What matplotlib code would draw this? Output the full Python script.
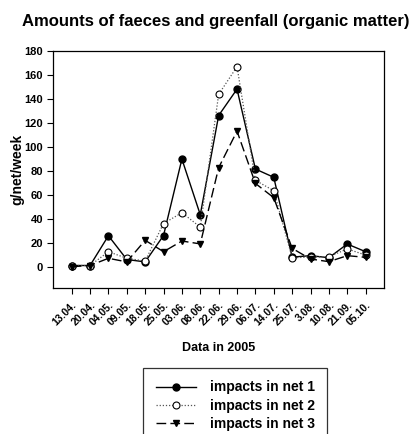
import matplotlib
matplotlib.use("Agg")
import matplotlib.pyplot as plt

plt.rcParams['font.family'] = ['Liberation Sans', 'DejaVu Sans']

dates = ["13.04.", "20.04.", "04.05.", "09.05.", "18.05.", "25.05.", "03.06.", "08.06.",
         "22.06.", "29.06.", "06.07.", "14.07.", "25.07.", "3.08.", "10.08.", "21.09.", "05.10."]
net1 = [1, 1, 25.8, 6, 4, 26, 89.7, 43.3, 126, 148, 81.4, 74.5, 8, 9.2, 7.5, 18.9, 12.5]
net2 = [1, 1, 12.5, 7, 4.7, 36, 45, 33, 143.6, 166.7, 72, 63.3, 7.5, 8, 8.3, 14.8, 9.7]
net3 = [0, 1, 7, 4, 22, 12.5, 21.4, 19, 82.5, 113, 69.4, 57.5, 15.3, 6.4, 4.2, 9.2, 7.8]
yticks = [0, 20, 40, 60, 80, 100, 120, 140, 160, 180]

W, H = 413, 434
fig = plt.figure(figsize=(W / 100, H / 100), dpi=100)
ax = fig.add_axes([53.3 / W, 1 - 287.7 / H, (384 - 53.3) / W, (287.7 - 50.7) / H])

x = list(range(len(dates)))
ax.plot(x, net1, color='black', lw=1.0, marker='o', ms=5, mfc='black', mec='black',
        label='impacts in net 1')
ax.plot(x, net2, color='#555555', lw=0.9, ls=(0, (1, 1.5)), marker='o', ms=5, mfc='white',
        mec='black', mew=0.8, label='impacts in net 2')
ax.plot(x, net3, color='black', lw=1.0, ls=(0, (7, 3)), marker='v', ms=5, mfc='black',
        mec='black', label='impacts in net 3')

ax.set_xlim(-1, len(dates))
ax.set_ylim(-17.5, 180)
ax.set_yticks(yticks)
ax.set_yticklabels([str(v) for v in yticks], fontsize=8, fontweight='bold')
ax.set_xticks(x)
ax.set_xticklabels(dates, rotation=45, ha='right', rotation_mode='anchor', fontsize=7.5,
                   fontweight='bold')
ax.tick_params(direction='out', length=4, width=0.8)
ax.tick_params(axis='x', pad=5)
for s in ax.spines.values():
    s.set_linewidth(0.9)

fig.text(17 / W, 1 - 169 / H, 'g/net/week', fontsize=10, fontweight='bold',
         rotation=90, ha='center', va='center')
fig.text(218.5 / W, 1 - 348 / H, 'Data in 2005', fontsize=9, fontweight='bold',
         ha='center', va='center')
fig.text(21.5 / W, 1 - 21.5 / H, 'Amounts of faeces and greenfall (organic matter)',
         fontsize=12, fontweight='bold', ha='left', va='center')

leg = fig.legend(loc='upper left', bbox_to_anchor=(143.3 / W, 1 - 368 / H),
                 frameon=True, fancybox=False, edgecolor='black',
                 prop={'weight': 'bold', 'size': 10}, handlelength=2.9, borderpad=0.9,
                 handletextpad=1.0, labelspacing=0.3, borderaxespad=0)
leg.get_frame().set_linewidth(0.9)

fig.savefig('out.png', dpi=100)
